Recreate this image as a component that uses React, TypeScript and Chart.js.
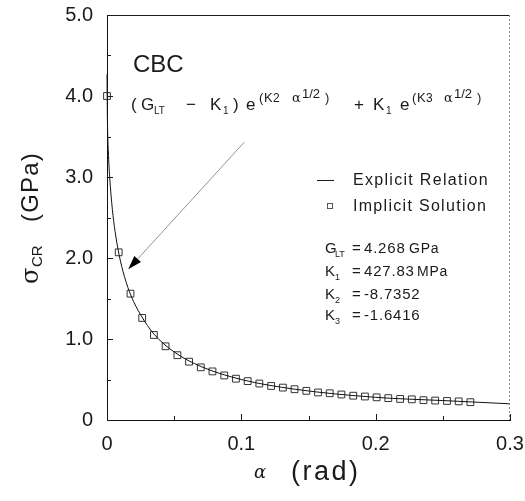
import React, { useEffect, useRef } from "react";
import { Chart, registerables } from "chart.js";

Chart.register(...registerables);

// Explicit relation curve
const LINE_X = [0, 0.0003, 0.001, 0.002, 0.004, 0.006, 0.009, 0.013, 0.018, 0.025, 0.035, 0.05, 0.07, 0.1, 0.14, 0.2, 0.25, 0.3];
const LINE_Y = [4.268, 3.72, 3.32, 3.0, 2.6, 2.33, 2.04, 1.77, 1.53, 1.3, 1.06, 0.84, 0.66, 0.5, 0.38, 0.28, 0.24, 0.2];

// Implicit solution markers
const MARK_X = [0, 0.0087, 0.0175, 0.0262, 0.0349, 0.0436, 0.0524, 0.0611, 0.0698, 0.0785, 0.0873, 0.096, 0.1047, 0.1134, 0.1222, 0.1309, 0.1396, 0.1484, 0.1571, 0.1658, 0.1745, 0.1833, 0.192, 0.2007, 0.2094, 0.2182, 0.2269, 0.2356, 0.2443, 0.2531, 0.2618, 0.2705];
const MARK_Y = [4.0, 2.07, 1.56, 1.26, 1.05, 0.91, 0.8, 0.72, 0.65, 0.6, 0.55, 0.51, 0.48, 0.45, 0.42, 0.4, 0.38, 0.36, 0.34, 0.33, 0.315, 0.3, 0.29, 0.28, 0.27, 0.26, 0.255, 0.245, 0.24, 0.235, 0.23, 0.22];

const X_MIN = 0, X_MAX = 0.3, X_STEP = 0.1, X_MINOR = 0.05;
const Y_MIN = 0, Y_MAX = 5, Y_STEP = 1, Y_MINOR = 0.5;
const X_LABELS = ["0", "0.1", "0.2", "0.3"];
const Y_LABELS = ["0", "1.0", "2.0", "3.0", "4.0", "5.0"];

const LEGEND = ["Explicit Relation", "Implicit Solution"];
const PARAMS = [
  { name: "G", sub: "LT", value: "4.268", unit: "GPa" },
  { name: "K", sub: "1", value: "427.83", unit: "MPa" },
  { name: "K", sub: "2", value: "-8.7352", unit: "" },
  { name: "K", sub: "3", value: "-1.6416", unit: "" },
];
const ARROW_FROM = { x: 0.1022, y: 3.43 };
const ARROW_TO = { x: 0.0158, y: 1.86 };

const FONT = "'Liberation Sans', Arial, sans-serif";
const SERIF = "'DejaVu Serif', serif";
const INK = "#1a1a1a";

// piece: [text, x, size, dy, font?]
type Piece = [string, number, number, number, string?];

const FORMULA: Piece[] = [
  ["(", 131, 17, 0],
  ["G", 141, 17, 0],
  ["LT", 154, 10, 4],
  ["\u2212", 186, 17, 0],
  ["K", 210, 17, 0],
  ["1", 223, 10, 4],
  [")", 233, 17, 0],
  ["e", 246, 17, 0],
  ["(", 259, 13, -8],
  ["K", 264, 13, -8],
  ["2", 273, 12, -8],
  ["\u03b1", 292, 13, -8, SERIF],
  ["1/2", 302, 13, -12],
  [")", 325, 13, -8],
  ["+", 354, 17, 0],
  ["K", 373, 17, 0],
  ["1", 386, 10, 4],
  ["e", 400, 17, 0],
  ["(", 412, 13, -8],
  ["K", 417, 13, -8],
  ["3", 426, 12, -8],
  ["\u03b1", 444, 13, -8, SERIF],
  ["1/2", 454, 13, -12],
  [")", 477, 13, -8],
];

const annotPlugin = {
  id: "annot",
  afterDraw(chart: any) {
    const ctx: CanvasRenderingContext2D = chart.ctx;
    const xs = chart.scales.x, ys = chart.scales.y;
    const a = chart.chartArea;
    ctx.save();
    ctx.fillStyle = INK;
    ctx.strokeStyle = INK;
    ctx.textBaseline = "alphabetic";
    ctx.textAlign = "left";
    (ctx as any).letterSpacing = "0px";

    // top border
    ctx.lineWidth = 1;
    ctx.beginPath();
    ctx.moveTo(a.left, Math.round(a.top) + 0.5);
    ctx.lineTo(a.right, Math.round(a.top) + 0.5);
    ctx.stroke();
    // right border (dashed gray)
    ctx.strokeStyle = "#888";
    ctx.setLineDash([2, 2]);
    ctx.beginPath();
    ctx.moveTo(Math.round(a.right) - 0.5, a.top);
    ctx.lineTo(Math.round(a.right) - 0.5, a.bottom);
    ctx.stroke();
    ctx.setLineDash([]);
    ctx.strokeStyle = INK;

    // inward ticks
    ctx.beginPath();
    for (let v = Y_MIN; v <= Y_MAX + 1e-9; v += Y_MINOR) {
      const py = Math.round(ys.getPixelForValue(v)) + 0.5;
      const major = Math.abs(v / Y_STEP - Math.round(v / Y_STEP)) < 1e-6;
      const len = major ? 6 : 4;
      ctx.moveTo(a.left, py);
      ctx.lineTo(a.left + len, py);
    }
    for (let v = X_MIN; v <= X_MAX + 1e-9; v += X_MINOR) {
      const px = Math.round(xs.getPixelForValue(v)) + 0.5;
      const major = Math.abs(v / X_STEP - Math.round(v / X_STEP)) < 1e-6;
      const len = major ? 6 : 4;
      ctx.moveTo(px, a.bottom);
      ctx.lineTo(px, a.bottom - len);
    }
    ctx.stroke();

    // CBC
    ctx.font = `24px ${FONT}`;
    ctx.fillText("CBC", 133, 72);

    // formula
    const by = 110;
    for (const [t, x, s, dy, f] of FORMULA) {
      ctx.font = `${s}px ${f || FONT}`;
      ctx.fillText(t, x, by + dy);
    }

    // arrow
    const x0 = xs.getPixelForValue(ARROW_FROM.x), y0 = ys.getPixelForValue(ARROW_FROM.y);
    const x1 = xs.getPixelForValue(ARROW_TO.x), y1 = ys.getPixelForValue(ARROW_TO.y);
    const ang = Math.atan2(y1 - y0, x1 - x0);
    const hl = 14, hw = 4.5;
    const bx = x1 - hl * Math.cos(ang), byy = y1 - hl * Math.sin(ang);
    ctx.strokeStyle = "#777";
    ctx.lineWidth = 0.8;
    ctx.beginPath();
    ctx.moveTo(x0, y0);
    ctx.lineTo(bx, byy);
    ctx.stroke();
    ctx.fillStyle = "#000";
    ctx.beginPath();
    ctx.moveTo(x1, y1);
    ctx.lineTo(bx + hw * Math.sin(ang), byy - hw * Math.cos(ang));
    ctx.lineTo(bx - hw * Math.sin(ang), byy + hw * Math.cos(ang));
    ctx.closePath();
    ctx.fill();
    ctx.fillStyle = INK;
    ctx.strokeStyle = INK;

    // legend
    ctx.lineWidth = 1;
    ctx.beginPath();
    ctx.moveTo(317, 180.5);
    ctx.lineTo(334, 180.5);
    ctx.stroke();
    ctx.strokeStyle = "#555";
    ctx.strokeRect(327.5, 203.5, 5, 5);
    ctx.strokeStyle = INK;
    ctx.font = `16px ${FONT}`;
    (ctx as any).letterSpacing = "1.3px";
    ctx.textBaseline = "middle";
    ctx.fillText(LEGEND[0], 353, 181);
    ctx.fillText(LEGEND[1], 353, 207);
    ctx.textBaseline = "alphabetic";

    // parameters
    const rows = [253, 276, 299, 320];
    PARAMS.forEach((p, i) => {
      const y = rows[i];
      (ctx as any).letterSpacing = "0.8px";
      ctx.font = `15px ${FONT}`;
      ctx.fillText(p.name, 325, y);
      (ctx as any).letterSpacing = "0px";
      ctx.font = `9px ${FONT}`;
      ctx.fillText(p.sub, 335, y + 4);
      (ctx as any).letterSpacing = "0.8px";
      ctx.font = `15px ${FONT}`;
      ctx.fillText("=", 352, y);
      ctx.fillText(p.value, 364, y);
      if (p.unit) {
        ctx.font = `14px ${FONT}`;
        ctx.fillText(p.unit, i === 0 ? 409 : 417, y);
      }
    });
    (ctx as any).letterSpacing = "0px";

    // x axis title
    ctx.font = `italic 18px ${SERIF}`;
    ctx.fillText("\u03b1", 254, 478);
    ctx.font = `27px ${FONT}`;
    (ctx as any).letterSpacing = "2.5px";
    ctx.fillText("(rad)", 291, 480);
    (ctx as any).letterSpacing = "0px";

    // y axis title
    ctx.save();
    ctx.translate(38, 0);
    ctx.rotate(-Math.PI / 2);
    ctx.font = `24px ${SERIF}`;
    ctx.fillText("\u03c3", -284, 0);
    ctx.font = `15px ${FONT}`;
    ctx.fillText("CR", -267, 4);
    ctx.font = `24px ${FONT}`;
    (ctx as any).letterSpacing = "1.2px";
    ctx.fillText("(GPa)", -222, 0);
    ctx.restore();

    ctx.restore();
  },
};

export default function App() {
  const ref = useRef<HTMLCanvasElement | null>(null);
  useEffect(() => {
    if (!ref.current) return;
    const chart = new Chart(ref.current, {
      type: "scatter",
      data: {
        datasets: [
          {
            label: LEGEND[0],
            data: LINE_X.map((x, i) => ({ x, y: LINE_Y[i] })),
            showLine: true,
            pointRadius: 0,
            borderColor: "#111",
            borderWidth: 1,
            cubicInterpolationMode: "monotone",
            clip: false,
          } as any,
          {
            label: LEGEND[1],
            data: MARK_X.map((x, i) => ({ x, y: MARK_Y[i] })),
            showLine: false,
            pointStyle: "rect",
            pointRadius: 4.8,
            borderWidth: 1,
            borderColor: "#333",
            backgroundColor: "rgba(0,0,0,0)",
            clip: false,
          } as any,
        ],
      },
      options: {
        animation: false,
        responsive: false,
        layout: { padding: { left: 0, right: 15, top: 15, bottom: 0 } },
        plugins: { legend: { display: false }, tooltip: { enabled: false } },
        scales: {
          x: {
            type: "linear",
            min: X_MIN,
            max: X_MAX,
            grid: { display: false, drawTicks: false },
            border: { display: true, color: "#111", width: 1 },
            ticks: {
              stepSize: X_STEP,
              padding: 12,
              color: INK,
              font: { family: FONT, size: 20 },
              callback: (v: any) => {
                const i = Math.round(Number(v) / X_STEP);
                return X_LABELS[i] ?? "";
              },
            },
            afterFit: (s: any) => {
              s.height = 81;
              s.paddingLeft = 0;
              s.paddingRight = 0;
            },
          },
          y: {
            type: "linear",
            min: Y_MIN,
            max: Y_MAX,
            grid: { display: false, drawTicks: false },
            border: { display: true, color: "#111", width: 1 },
            ticks: {
              stepSize: Y_STEP,
              padding: 14,
              color: INK,
              font: { family: FONT, size: 20 },
              callback: (v: any) => {
                const i = Math.round(Number(v) / Y_STEP);
                return Y_LABELS[i] ?? "";
              },
            },
            afterFit: (s: any) => {
              s.width = 107;
              s.paddingTop = 0;
              s.paddingBottom = 0;
            },
          },
        },
      },
      plugins: [annotPlugin],
    });
    return () => chart.destroy();
  }, []);
  return (
    <div style={{ position: "absolute", left: 0, top: 0, width: 525, height: 501, background: "#fff" }}>
      <canvas ref={ref} width={525} height={501} />
    </div>
  );
}
